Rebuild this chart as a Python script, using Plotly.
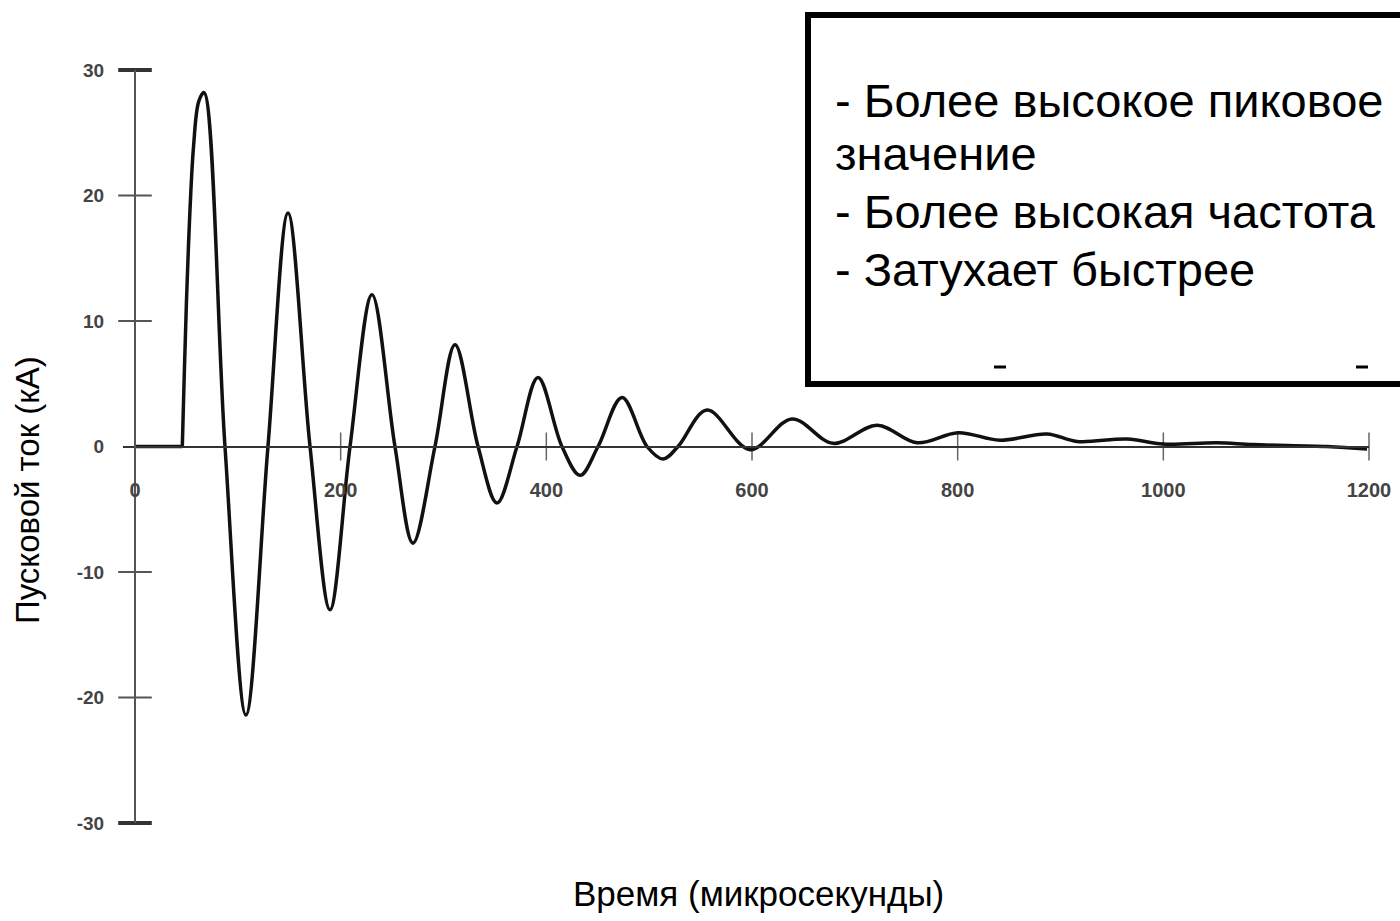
import plotly.graph_objects as go

# Inrush current waveform (time in microseconds, current in kA)
time_us = [0, 46, 48, 52, 57, 62, 67.1, 87.5, 107.9, 129.3, 148.8, 170.2, 189.6, 209.1,
           230.5, 252.8, 270.3, 291.7, 311.2, 333.6, 352.0, 371.5, 391.9, 415.2,
           432.8, 450.3, 473.6, 497.9, 513.5, 528.1, 556.3, 598.1, 638.9, 678.8,
           721.6, 760.5, 800.4, 841.2, 886.9, 916.1, 964.7, 999.7, 1052.2, 1087.2,
           1159.2, 1198.1]
current_ka = [0, 0, 6.0, 16.0, 24.0, 27.5, 28.2, 0, -21.4, 0, 18.6, 0, -13.0, 0,
              12.1, 0, -7.7, 0, 8.1, 0, -4.5, 0, 5.5, 0,
              -2.3, 0, 3.9, 0, -1.0, 0, 2.9, -0.25, 2.2, 0.25,
              1.7, 0.3, 1.1, 0.5, 1.0, 0.4, 0.6, 0.2, 0.3, 0.15,
              0.0, -0.2]

x_ticks = [0, 200, 400, 600, 800, 1000, 1200]
y_ticks = [-30, -20, -10, 0, 10, 20, 30]
y_tick_text = ["-30", "-20", "-10", "0", "10", "20", "30"]

notes = ["- Более высокое пиковое", "значение", "- Более высокая частота", "- Затухает быстрее"]

W, H = 1400, 921
X_RANGE = [-11.67, 1200]
Y_RANGE = [-30, 30]
x_dom = [123 / W, 1369 / W]
y_dom = [(H - 823) / H, (H - 70) / H]
y_axis_pos = x_dom[0] + (0 - X_RANGE[0]) / (X_RANGE[1] - X_RANGE[0]) * (x_dom[1] - x_dom[0])
x_axis_pos = y_dom[0] + (0 - Y_RANGE[0]) / (Y_RANGE[1] - Y_RANGE[0]) * (y_dom[1] - y_dom[0])

# split the trace at the switching instant: flat before, smooth oscillation after
i_on = 1
fig = go.Figure()

# cross-style tick marks on the vertical axis
inner_y = [v for v in y_ticks if v not in (0, Y_RANGE[0], Y_RANGE[1])]
fig.add_trace(go.Scatter(
    x=[0] * len(inner_y), y=inner_y,
    mode="markers", cliponaxis=False, hoverinfo="skip", showlegend=False,
    marker=dict(symbol="line-ew", size=24, line=dict(width=2, color="#555"))))
fig.add_trace(go.Scatter(
    x=[0, 0], y=Y_RANGE,
    mode="markers", cliponaxis=False, hoverinfo="skip", showlegend=False,
    marker=dict(symbol="line-ew", size=24, line=dict(width=4, color="#333"))))
# small tick marks on the time axis
fig.add_trace(go.Scatter(
    x=x_ticks[1:], y=[0] * (len(x_ticks) - 1),
    mode="markers", cliponaxis=False, hoverinfo="skip", showlegend=False,
    marker=dict(symbol="line-ns", size=20, line=dict(width=1.5, color="#666"))))

fig.add_trace(go.Scatter(
    x=time_us[:i_on + 1], y=current_ka[:i_on + 1], mode="lines", showlegend=False,
    line=dict(color="#111", width=3.5)))
fig.add_trace(go.Scatter(
    x=time_us[i_on:], y=current_ka[i_on:], mode="lines", showlegend=False,
    line=dict(color="#111", width=3.5, shape="spline", smoothing=1.0)))

fig.update_layout(
    width=W, height=H, margin=dict(l=0, r=0, t=0, b=0, autoexpand=False),
    paper_bgcolor="white", plot_bgcolor="white",
    font=dict(family="Liberation Sans, Arial, sans-serif", color="#000"),
    xaxis=dict(domain=x_dom, range=X_RANGE, anchor="free", position=x_axis_pos,
               automargin=False, fixedrange=True,
               showgrid=False, zeroline=False, showline=True, linecolor="#333", linewidth=2,
               tickmode="array", tickvals=x_ticks, ticks="", ticklabelstandoff=25,
               tickfont=dict(size=20, color="#444", weight="bold")),
    yaxis=dict(domain=y_dom, range=Y_RANGE, anchor="free", position=y_axis_pos,
               automargin=False, fixedrange=True,
               showgrid=False, zeroline=False, showline=True, linecolor="#555", linewidth=2,
               tickmode="array", tickvals=y_ticks, ticktext=y_tick_text, ticks="",
               ticklabelstandoff=26, tickfont=dict(size=19, color="#444", weight="bold")),
)

# axis titles
fig.add_annotation(text="Пусковой ток (кА)", xref="paper", yref="paper",
                   x=27 / W, y=1 - 490 / H, textangle=-90, showarrow=False,
                   xanchor="center", yanchor="middle",
                   font=dict(size=33, color="#000"))
fig.add_annotation(text="Время (микросекунды)", xref="paper", yref="paper",
                   x=758 / W, y=1 - 893 / H, showarrow=False,
                   xanchor="center", yanchor="middle",
                   font=dict(size=35, color="#000"))

# callout box
fig.add_shape(type="rect", xref="paper", yref="paper",
              x0=808 / W, x1=1420 / W, y0=1 - 384 / H, y1=1 - 15 / H,
              line=dict(color="#000", width=6), fillcolor="white", layer="above")
for px in (1000, 1362):
    fig.add_shape(type="line", xref="paper", yref="paper",
                  x0=(px - 6) / W, x1=(px + 6) / W, y0=1 - 367 / H, y1=1 - 367 / H,
                  line=dict(color="#000", width=3), layer="above")

note_y = [100, 154, 211, 269]
for txt, py in zip(notes, note_y):
    fig.add_annotation(text=txt, xref="paper", yref="paper", x=833 / W, y=1 - py / H,
                       xanchor="left", yanchor="middle", showarrow=False,
                       font=dict(size=47, color="#000"))

fig.write_html("out.html")
